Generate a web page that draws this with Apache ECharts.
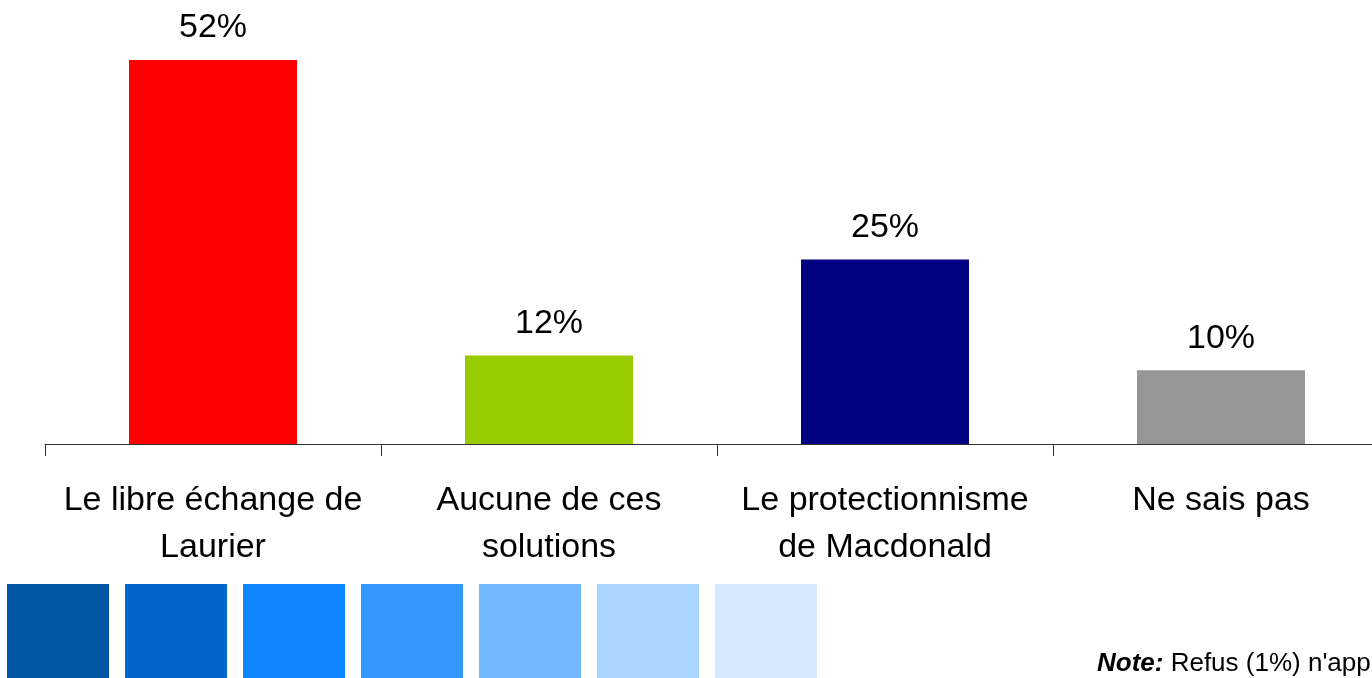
<!DOCTYPE html>
<html>
<head>
<meta charset="utf-8">
<style>
  html, body { margin: 0; padding: 0; background: #fff; overflow: hidden; }
  #chart { width: 1389px; height: 678px; }
</style>
<script src="https://cdn.jsdelivr.net/npm/echarts@6/dist/echarts.min.js"></script>
</head>
<body>
<div id="chart"></div>
<script>
// data
var categories = [
  "Le libre échange de\nLaurier",
  "Aucune de ces\nsolutions",
  "Le protectionnisme\nde Macdonald",
  "Ne sais pas"
];
var values = [52, 12, 25, 10];
var barColors = ["#FF0000", "#99CC00", "#000080", "#969696"];
var swatchColors = ["#0055A5", "#0066CC", "#1087FF", "#3399FF", "#73B9FF", "#A8D4FF", "#D6E9FF"];
var noteLabel = "Note:";
var noteText = " Refus (1%) n'apparaît pas";

var font = '"Liberation Sans", Arial, Helvetica, sans-serif';

// the chart area runs past the right edge of the window, like the source slide
var chart = echarts.init(document.getElementById("chart"));

var swatches = swatchColors.map(function (c, i) {
  return {
    type: "rect",
    left: 7 + i * 118,
    top: 584,
    shape: { width: 102, height: 94 },
    style: { fill: c }
  };
});

chart.setOption({
  animation: false,
  textStyle: { fontFamily: font },
  grid: {
    left: 45,
    top: 1,
    width: 1344,
    height: 443,
    containLabel: false
  },
  xAxis: {
    type: "category",
    data: categories,
    axisLine: { lineStyle: { color: "#333", width: 1 } },
    axisTick: { show: true, length: 12, lineStyle: { color: "#333" } },
    axisLabel: {
      interval: 0,
      margin: 33,
      fontSize: 34,
      lineHeight: 47,
      color: "#000",
      fontFamily: font
    }
  },
  yAxis: {
    type: "value",
    min: 0,
    max: 60,
    show: false,
    splitLine: { show: false }
  },
  series: [{
    type: "bar",
    barWidth: "50%",
    data: values.map(function (v, i) {
      return { value: v, itemStyle: { color: barColors[i] } };
    }),
    label: {
      show: true,
      position: "top",
      distance: 15,
      fontSize: 34,
      color: "#000",
      fontFamily: font,
      formatter: "{c}%"
    }
  }],
  graphic: swatches.concat([{
    type: "text",
    left: 1097,
    top: 651,
    style: {
      text: "{b|" + noteLabel + "}" + noteText,
      fontSize: 26,
      fontFamily: font,
      fill: "#000",
      rich: {
        b: { fontWeight: "bold", fontStyle: "italic", fontSize: 26, fontFamily: font }
      }
    }
  }])
});
</script>
</body>
</html>
